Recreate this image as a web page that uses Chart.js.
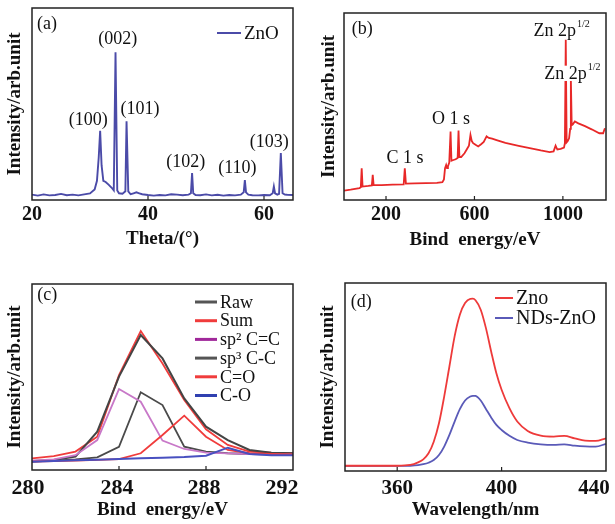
<!DOCTYPE html>
<html>
<head>
<meta charset="utf-8">
<script src="https://cdn.jsdelivr.net/npm/chart.js@4.4.0/dist/chart.umd.min.js"></script>
<style>
html,body{margin:0;padding:0;background:#fff;width:615px;height:524px;overflow:hidden}
canvas{position:absolute}
</style>
</head>
<body>
<canvas id="chartA" width="307" height="262" style="left:0;top:0"></canvas>
<canvas id="chartB" width="308" height="262" style="left:307px;top:0"></canvas>
<canvas id="chartC" width="307" height="262" style="left:0;top:262px"></canvas>
<canvas id="chartD" width="308" height="262" style="left:307px;top:262px"></canvas>
<script>
// ---- (a) XRD of ZnO
var xrdTheta = [20,21,22,23,24,25,26,27,28,29,30,30.8,31.2,31.5,31.75,32.0,32.3,32.7,33.2,33.7,34.1,34.4,34.7,35.0,35.6,36.1,36.3,36.6,37.0,37.5,38,38.5,39,40,41,42,43,44,45,46,47,47.4,47.6,47.8,48.2,49,50,51,52,53,54,55,56,56.5,56.7,56.9,57.3,58,59,60,61,61.5,61.7,61.9,62.3,62.6,62.9,63.2,63.6,64,65];
var xrdZnO   = [2.8,2.3,2.9,2.4,2.6,3.2,2.5,2.8,2.4,2.9,3.4,5.5,10,22,36,18,10,9.4,8,6.5,5,77,5,3.5,3.3,4.5,41,4.5,3.0,3.5,4.0,3.5,3.0,2.6,2.3,2.6,2.4,3.0,2.8,2.5,2.8,3.5,14,3.5,2.6,2.5,2.9,2.4,2.7,2.3,2.6,2.4,2.8,4,10.4,4,2.8,2.5,2.4,2.6,2.5,3.5,7,3.5,2.8,3.2,24.5,3.5,2.8,2.7,2.6];
var xrdTicks = [20,40,60];
var xrdNotes = ["(a)","(100)","(002)","(101)","(102)","(110)","(103)"];
var xrdNoteX = [22.6,29.7,34.8,38.6,46.5,55.4,60.9];
var xrdNoteY = [91.7,41.7,83.8,47.3,19.9,16.5,30.3];

// ---- (b) XPS survey
var xpsEnergy = [10,40,80,86,90,94,120,136,140,144,180,230,280,285,290,330,380,430,455,462,467,472,476,480,486,492,496,505,515,524,528,532,540,555,565,575,582,588,594,605,617,630,642,655,665,680,700,740,800,850,900,940,958,967,975,990,1005,1009,1013,1017,1022,1028,1033,1036,1040,1045,1054,1070,1100,1130,1165,1182,1190];
var xpsCount  = [5.0,5.5,6.4,6.8,17,7.2,7.5,7.8,13.4,8.0,8.0,8.2,8.4,17,8.8,8.9,9.0,9.2,9.5,11,17,18.7,17,18,20,36.6,21,21.4,21.8,22.5,37.1,23,23,25,27,29,34.8,31.5,30.4,29.5,28.6,29.8,31,34,33.2,32.8,32,30.5,29,27.8,26.5,25.6,26,29.1,27,27.3,28,30.4,85.7,30.8,31.5,33,38,65.2,40,40.5,42,41,39.5,37.8,35.7,35.7,38.4];
var xpsTicks = [200,600,1000];
var xpsNotes = ["(b)","C 1 s","O 1 s","Zn 2p","Zn 2p"];
var xpsNoteSup = ["","","","1/2","1/2"];
var xpsNoteX = [93,286,494,994,1043];
var xpsNoteY = [91.5,22.5,43,90,67.5];

// ---- (c) C1s fit
var c1sEnergy = [280,281,282,283,284,285,286,287,288,289,290,291,292];
var c1sRaw = [4.8,5.4,7.2,20.6,50.2,72.6,60,38.5,23.3,16.1,10.8,9.3,9];
var c1sSum = [6.3,7.5,9.9,17.9,51,74.7,57.3,37.6,21.9,13.5,9.9,9.3,9];
var c1sSp2 = [5,5.7,8,16.1,43.5,36.7,15.8,11.3,9.3,8.9,8.6,8.4,8.4];
var c1sSp3 = [4.5,5.0,5.7,6.8,12.5,41.8,34.9,12.5,9.9,9,8.6,8.4,8.4];
var c1sCdO = [4.5,4.8,5.0,5.4,5.9,9,18.8,29.2,17.9,10.8,9,8.6,8.4];
var c1sCO  = [4.5,4.8,5.2,5.5,5.9,6.3,6.6,7.0,7.7,12,8.6,7.9,7.9];
var c1sTicks = [280,284,288,292];
var c1sNames = ["Raw","Sum","sp² C=C","sp³ C-C","C=O","C-O"];

// ---- (d) PL
var plWave = [340,350,360,365,368,370,372,374,376,378,380,382,384,386,388,389,390,392,394,396,398,400,403,406,410,415,420,424,428,432,436,440];
var plZno  = [2.8,2.8,2.8,3.2,4.6,6.2,9.4,15.6,25.4,39.6,55.6,71.6,83.1,89.3,91.6,91.7,90.8,85.8,76,63.6,52,43.2,33.4,26.3,21.3,18.8,18.3,18.7,17.4,16.2,16,17.4];
var plNDs  = [2.7,2.7,2.7,2.8,3.1,3.6,4.4,5.8,8.5,13,19.2,26.3,32.9,37.5,39.6,40,39.9,37.5,33,28.5,24.5,21.8,18.7,16.5,15.1,14.2,13.9,14.2,13.5,13.1,13,14.4];
var plTicks = [360,400,440];
var plNames = ["Zno","NDs-ZnO"];

var SERIF = '"Liberation Serif", "Times New Roman", serif';

function pts(xs, ys){ return xs.map(function(x,i){ return {x:x, y:ys[i]}; }); }

// box around plot + small inward ticks on x axis, nudges edge tick labels
var framePlugin = {
  id:'frame',
  beforeDraw:function(chart, args, opts){
    if (!opts.shift) return;
    var items = chart.scales.x.getLabelItems();
    items.forEach(function(it, i){ if (opts.shift[i]) it.options.translation[0] += opts.shift[i]; });
  },
  afterDraw:function(chart){
    var a = chart.chartArea, ctx = chart.ctx, xs = chart.scales.x;
    ctx.save();
    ctx.strokeStyle = '#222'; ctx.lineWidth = 1.5;
    ctx.strokeRect(a.left, a.top, a.right-a.left, a.bottom-a.top);
    ctx.lineWidth = 1.2;
    xs.ticks.forEach(function(t){
      var px = xs.getPixelForValue(t.value);
      if (px <= a.left+2 || px >= a.right-2) return;
      ctx.beginPath(); ctx.moveTo(px, a.bottom); ctx.lineTo(px, a.bottom-4); ctx.stroke();
    });
    ctx.restore();
  }
};

// text notes placed in data coordinates
var notesPlugin = {
  id:'notes',
  afterDatasetsDraw:function(chart, args, opts){
    if (!opts.text) return;
    var ctx = chart.ctx, xs = chart.scales.x, ys = chart.scales.y, size = opts.size || 18;
    ctx.save();
    ctx.textBaseline = 'middle'; ctx.textAlign = 'left';
    opts.text.forEach(function(txt, i){
      var sup = opts.sup ? opts.sup[i] : '';
      var px = xs.getPixelForValue(opts.x[i]), py = ys.getPixelForValue(opts.y[i]);
      ctx.font = size+'px '+SERIF;
      var w = ctx.measureText(txt).width, ws = 0;
      if (sup){ ctx.font = Math.round(size*0.55)+'px '+SERIF; ws = ctx.measureText(sup).width + 1; }
      var left = px - (w+ws)/2;
      if (opts.backdrop){ ctx.fillStyle = '#fff'; ctx.fillRect(left-1, py-size*0.45, w+ws+2, size*0.85); }
      ctx.fillStyle = '#111';
      ctx.font = size+'px '+SERIF;
      ctx.fillText(txt, left, py);
      if (sup){ ctx.font = Math.round(size*0.55)+'px '+SERIF; ctx.fillText(sup, left+w+1, py-size*0.38); }
    });
    ctx.restore();
  }
};

// legend drawn inside the plot area
var boxLegendPlugin = {
  id:'boxLegend',
  afterDatasetsDraw:function(chart, args, opts){
    if (!opts.names) return;
    var ctx = chart.ctx, a = chart.chartArea;
    ctx.save();
    ctx.textBaseline = 'middle'; ctx.textAlign = 'left';
    ctx.font = opts.size+'px '+SERIF;
    opts.names.forEach(function(n, i){
      var y = a.top + opts.dy + i*opts.row, x = a.left + opts.dx;
      ctx.strokeStyle = opts.colors[i]; ctx.lineWidth = opts.lw;
      ctx.beginPath(); ctx.moveTo(x, y); ctx.lineTo(x+opts.len, y); ctx.stroke();
      ctx.fillStyle = '#111';
      ctx.fillText(n, x+opts.len+3, y+1);
    });
    ctx.restore();
  }
};

Chart.register(framePlugin, notesPlugin, boxLegendPlugin);

function xAxis(min, max, ticks, title, tickSize, tickPad, axisH, titlePad){
  return {
    type:'linear', min:min, max:max,
    afterBuildTicks:function(s){ s.ticks = ticks.map(function(v){ return {value:v}; }); },
    afterFit:function(s){ s.height = axisH; s.paddingLeft = 0; s.paddingRight = 0; },
    grid:{display:false, drawTicks:false}, border:{display:false},
    ticks:{font:{family:SERIF, size:tickSize, weight:'bold'}, color:'#111', padding:tickPad, maxRotation:0, autoSkip:false,
      callback:function(v){ return String(v); }},
    title:{display:true, text:title, color:'#111', font:{family:SERIF, size:19, weight:'bold'}, padding:{top:0, bottom:titlePad}}
  };
}
function yAxis(width, titlePad){
  return {
    min:0, max:100,
    afterFit:function(s){ s.width = width; s.paddingTop = 0; s.paddingBottom = 0; },
    grid:{display:false, drawTicks:false}, border:{display:false},
    ticks:{display:false},
    title:{display:true, text:'Intensity/arb.unit', color:'#111', font:{family:SERIF, size:19, weight:'bold'}, padding:{top:titlePad, bottom:0}}
  };
}
function line(label, xs, ys, color, width, smooth){
  return {label:label, data:pts(xs, ys), borderColor:color, backgroundColor:color, borderWidth:width,
    pointRadius:0, fill:false, tension:0, cubicInterpolationMode: smooth ? 'monotone' : 'default'};
}
function baseOptions(pad){
  return {responsive:false, animation:false, devicePixelRatio:1, layout:{padding:pad},
    plugins:{legend:{display:false}, tooltip:{enabled:false}}};
}

// (a)
var optA = baseOptions({left:0, top:8, right:14, bottom:0});
optA.scales = {x:xAxis(20, 65, xrdTicks, 'Theta/(°)', 20, 3, 62, 12), y:yAxis(32, 4)};
optA.plugins.notes = {text:xrdNotes, x:xrdNoteX, y:xrdNoteY, size:18};
optA.plugins.boxLegend = {names:['ZnO'], colors:['#4b4ba8'], dx:185, dy:25, row:20, len:24, lw:2, size:19};
new Chart('chartA', {type:'line', data:{datasets:[line('ZnO', xrdTheta, xrdZnO, '#4b4ba8', 1.9)]}, options:optA});

// (b)
var optB = baseOptions({left:0, top:13, right:9, bottom:0});
optB.scales = {x:xAxis(10, 1195, xpsTicks, 'Bind  energy/eV', 20, 3, 62, 11), y:yAxis(37, 11)};
optB.plugins.notes = {text:xpsNotes, sup:xpsNoteSup, x:xpsNoteX, y:xpsNoteY, size:18, backdrop:true};
new Chart('chartB', {type:'line', data:{datasets:[line('XPS', xpsEnergy, xpsCount, '#e82828', 1.8)]}, options:optB});

// (c)
var cColors = ['#444444','#f03c3c','#c878c8','#4a4a4a','#f03c3c','#4850c0'];
var cLegendColors = ['#555555','#f03c3c','#a0289a','#555555','#f03c3c','#3040b0'];
var optC = baseOptions({left:0, top:22, right:14, bottom:0});
optC.scales = {x:xAxis(280, 292, c1sTicks, 'Bind  energy/eV', 22, 5, 54, 3), y:yAxis(32, 4)};
optC.plugins.notes = {text:['(c)'], x:[280.7], y:[94], size:18};
optC.plugins.frame = {shift:[-4, -2, -2, -11]};
optC.plugins.boxLegend = {names:c1sNames, colors:cLegendColors, dx:163, dy:18, row:18.7, len:22, lw:3, size:18};
new Chart('chartC', {type:'line', data:{datasets:[
  line(c1sNames[5], c1sEnergy, c1sCO, cColors[5], 2),
  line(c1sNames[4], c1sEnergy, c1sCdO, cColors[4], 1.8),
  line(c1sNames[2], c1sEnergy, c1sSp2, cColors[2], 1.8),
  line(c1sNames[3], c1sEnergy, c1sSp3, cColors[3], 1.8),
  line(c1sNames[0], c1sEnergy, c1sRaw, cColors[0], 2),
  line(c1sNames[1], c1sEnergy, c1sSum, cColors[1], 1.8)
]}, options:optC});

// (d)
var optD = baseOptions({left:0, top:21, right:9, bottom:0});
optD.scales = {x:xAxis(340, 440, plTicks, 'Wavelength/nm', 21, 5, 53, 3), y:yAxis(38, 10)};
optD.plugins.notes = {text:['(d)'], x:[346.2], y:[89.9], size:18};
optD.plugins.frame = {shift:[0, 0, -12]};
optD.plugins.boxLegend = {names:plNames, colors:['#ee3a3a','#5a5ab8'], dx:150, dy:15, row:20, len:18, lw:2, size:20};
new Chart('chartD', {type:'line', data:{datasets:[
  line(plNames[0], plWave, plZno, '#ee3a3a', 1.8, true),
  line(plNames[1], plWave, plNDs, '#5a5ab8', 1.8, true)
]}, options:optD});
</script>
</body>
</html>
